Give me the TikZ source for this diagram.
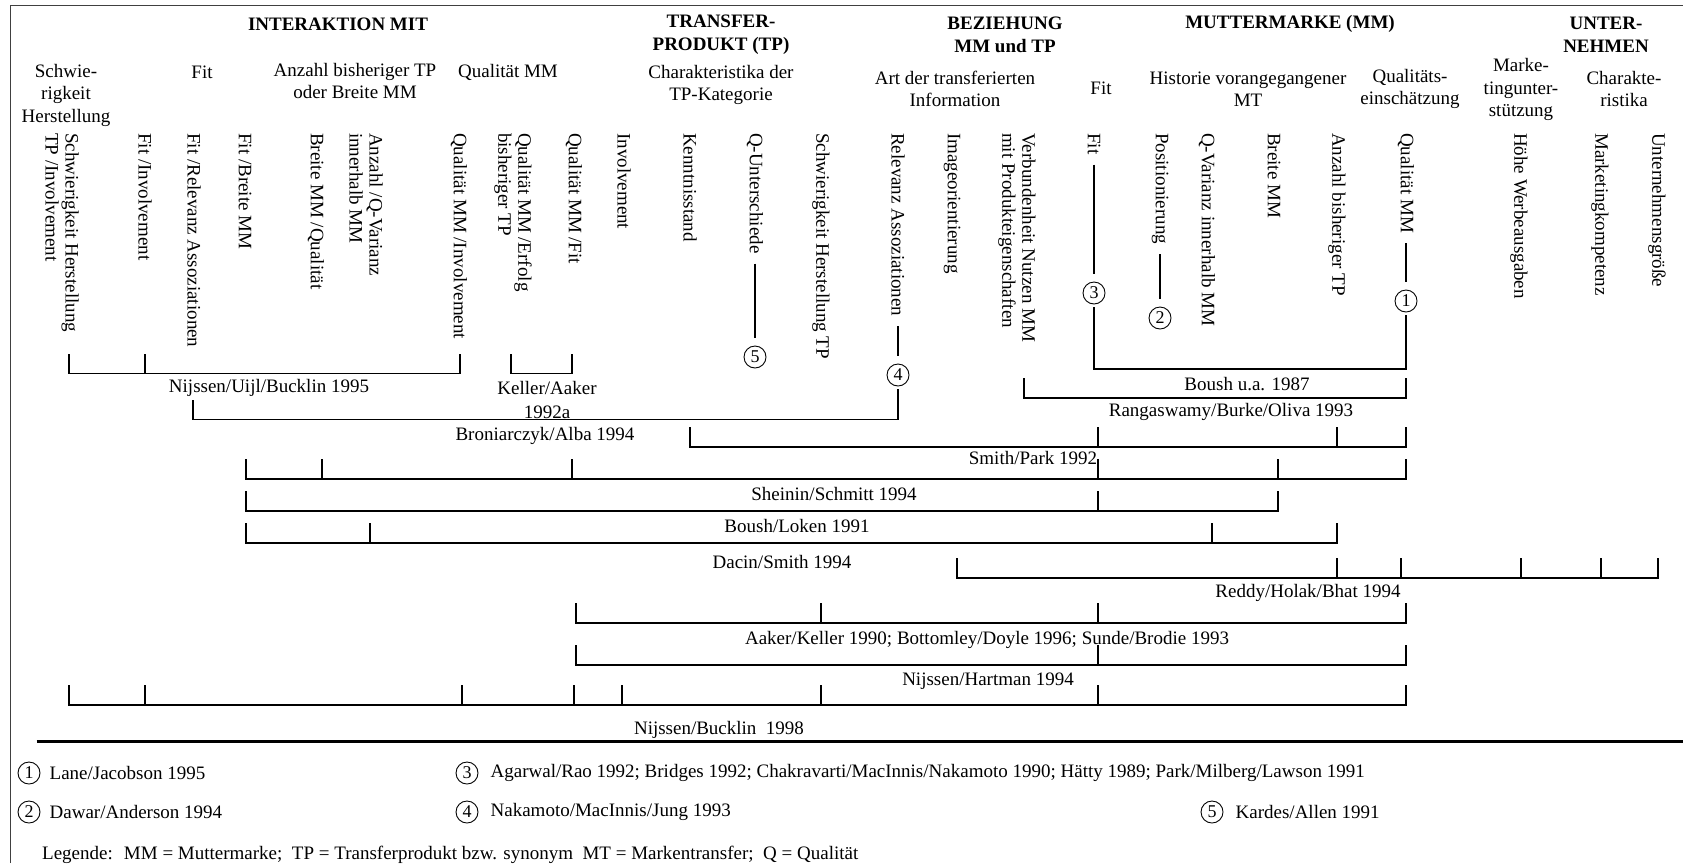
\documentclass[tikz,border=0pt]{standalone}
\usepackage{fontspec}
\setmainfont{Liberation Serif}
\usetikzlibrary{positioning}

\tikzset{
  txt/.style={inner sep=0pt, align=center, font=\fontsize{19}{22.5}\selectfont},
  hdr/.style={txt, font=\fontsize{19}{23}\selectfont\bfseries},
  vtxt/.style={inner sep=0pt, align=left, rotate=-90, anchor=west, font=\fontsize{19}{20}\selectfont},
  lbl/.style={txt},
  num/.style={circle, draw, line width=0.9pt, minimum size=22pt, inner sep=0pt, font=\fontsize{18}{18}\selectfont},
  brk/.style={line width=1.2pt, line cap=rect},
  refline/.style={line width=1.1pt, shorten <=10pt, shorten >=8pt},
}

% one bracket row: y, left end, right end, ticks
\newcommand\brrow[4]{%
  \draw[brk] (#2,#1) -- (#3,#1);
  \foreach \bx in {#4} \draw[brk] (\bx,#1) -- ++(0,-19);
}

\begin{document}
\begin{tikzpicture}[x=1pt, y=-1pt]
\useasboundingbox (0,0) rectangle (1683,863);

% frame
\draw[line width=1.6pt, black!75] (10.5,863) -- (10.5,5.5) -- (1683,5.5);

% group headers
\node[hdr] (hinter) at (338,24) {INTERAKTION MIT};
\node[hdr] (htp) at (721,35) {TRANSFER-\\PRODUKT (TP)};
\node[hdr] (hbez) at (1005,35) {BEZIEHUNG\\MM und TP};
\node[hdr] (hmm) at (1290,24) {MUTTERMARKE (MM)};
\node[hdr] (hunt) at (1606,35) {UNTER-\\NEHMEN};

% sub headers
\node[txt] (sschw) at (66,95) {Schwie-\\rigkeit\\Herstellung};
\node[txt] (sfit) at (202,72) {Fit};
\node[txt] (sanz) at (355,81) {Anzahl bisheriger TP\\oder Breite MM};
\node[txt] (squal) at (508,72) {Qualität MM};
\node[txt] (schar) at (721,85) {Charakteristika der\\TP-Kategorie};
\node[txt] (sart) at (955,89) {Art der transferierten\\Information};
\node[txt] (sfit2) at (1101,88) {Fit};
\node[txt] (shist) at (1248,89) {Historie vorangegangener\\MT};
\node[txt] (sqe) at (1410,89) {Qualitäts-\\einschätzung};
\node[txt] (smark) at (1521,89.5) {Marke-\\tingunter-\\stützung};
\node[txt] (schar2) at (1624,89) {Charakte-\\ristika};

% variables
\node[vtxt] (v1) at (62,133) {Schwierigkeit Herstellung\\TP /Involvement};
\node[vtxt] (v2) at (145,133) {Fit /Involvement};
\node[vtxt] (v3) at (194,133) {Fit /Relevanz Assoziationen};
\node[vtxt] (v4) at (245,133) {Fit /Breite MM};
\node[vtxt] (v5) at (316,133) {Breite MM /Qualität};
\node[vtxt] (v6) at (366,133) {Anzahl /Q-Varianz\\innerhalb MM};
\node[vtxt] (v7) at (459,133) {Qualität MM /Involvement};
\node[vtxt] (v8) at (513,133) {Qualität MM /Erfolg\\bisheriger TP};
\node[vtxt] (v9) at (574,133) {Qualität MM /Fit};
\node[vtxt] (v10) at (624,133) {Involvement};
\node[vtxt] (v11) at (690,133) {Kenntnisstand};
\node[vtxt] (v12) at (755,133) {Q-Unterschiede};
\node[vtxt] (v13) at (821,133) {Schwierigkeit Herstellung TP};
\node[vtxt] (v14) at (898,133) {Relevanz Assoziationen};
\node[vtxt] (v15) at (952,133) {Imageorientierung};
\node[vtxt] (v16) at (1017,133) {Verbundenheit Nutzen MM\\mit Produkteigenschaften};
\node[vtxt] (v17) at (1094,133) {Fit};
\node[vtxt] (v18) at (1160,133) {Positionierung};
\node[vtxt] (v19) at (1207,133) {Q-Varianz innerhalb MM};
\node[vtxt] (v20) at (1274,133) {Breite MM};
\node[vtxt] (v21) at (1337,133) {Anzahl bisheriger TP};
\node[vtxt] (v22) at (1406,133) {Qualität MM};
\node[vtxt] (v23) at (1519,133) {Höhe Werbeausgaben};
\node[vtxt] (v24) at (1600,133) {Marketingkompetenz};
\node[vtxt] (v25) at (1657,133) {Unternehmensgröße};

% footnote marks
\node[num] (n5) at (755,357) {5};
\node[num] (n4) at (898,375) {4};
\node[num] (n3) at (1094,293) {3};
\node[num] (n2) at (1160,318) {2};
\node[num] (n1) at (1406,301) {1};
\draw[refline] (v12.east) -- (n5.north);
\draw[refline] (v14.east) -- (n4.north);
\draw[refline] (v17.east) -- (n3.north);
\draw[refline] (v18.east) -- (n2.north);
\draw[refline] (v22.east) -- (n1.north);
\draw[brk, shorten <=3pt] (n4.south) -- (898,419.5);
\draw[brk, shorten <=3pt] (n3.south) -- (1094,369);
\draw[brk, shorten <=3pt] (n1.south) -- (1406,369);

% studies
\brrow{373.5}{69}{460}{69,145,460}
\brrow{373.5}{511}{572}{511,572}
\brrow{419.5}{193}{898}{193}
\draw[brk] (1094,369) -- (1406,369);
\brrow{398}{1024}{1406}{1024,1406}
\brrow{447}{690}{1406}{690,1098,1337,1406}
\brrow{479}{246}{1406}{246,322,572,1098,1278,1406}
\brrow{511}{246}{1278}{246,1098,1278}
\brrow{543}{246}{1337}{246,370,1212,1337}
\brrow{578}{957}{1658}{957,1337,1401,1521,1601,1658}
\brrow{623}{576}{1406}{576,821,1098,1406}
\brrow{665}{576}{1406}{576,1098,1406}
\brrow{705}{69}{1406}{69,145,462,574,622,821,1098,1406}

\node[lbl] (lnub) at (269,388) {Nijssen/Uijl/Bucklin 1995};
\node[lbl] (lka) at (547,400) {Keller/Aaker\\[1.5pt]1992a};
\node[lbl] (lba) at (545,436) {Broniarczyk/Alba 1994};
\node[lbl] (lbua) at (1247,384) {Boush u.a. 1987};
\node[lbl] (lrbo) at (1231,411.5) {Rangaswamy/Burke/Oliva 1993};
\node[lbl] (lsp) at (1033,458) {Smith/Park 1992};
\node[lbl] (lss) at (834,494) {Sheinin/Schmitt 1994};
\node[lbl] (lbl) at (797,526) {Boush/Loken 1991};
\node[lbl] (lds) at (782,561.5) {Dacin/Smith 1994};
\node[lbl] (lrhb) at (1308,592.5) {Reddy/Holak/Bhat 1994};
\node[lbl] (lak) at (987,640) {Aaker/Keller 1990; Bottomley/Doyle 1996; Sunde/Brodie 1993};
\node[lbl] (lnh) at (988,681.5) {Nijssen/Hartman 1994};
\node[lbl] (lnb) at (719,730) {Nijssen/Bucklin~ 1998};

% legend
\draw[line width=3pt] (36.5,741.5) -- (1683,741.5);
\node[num] (k1) at (29,773) {1};
\node[txt, right=9pt of k1] (t1) {Lane/Jacobson 1995};
\node[num] (k2) at (29,812) {2};
\node[txt, right=9pt of k2] (t2) {Dawar/Anderson 1994};
\node[num] (k3) at (467,773) {3};
\node[txt, right=12pt of k3] (t3) {Agarwal/Rao 1992; Bridges 1992; Chakravarti/MacInnis/Nakamoto 1990; Hätty 1989; Park/Milberg/Lawson 1991};
\node[num] (k4) at (467,812) {4};
\node[txt, right=12pt of k4] (t4) {Nakamoto/MacInnis/Jung 1993};
\node[num] (k5) at (1212,812) {5};
\node[txt, right=12pt of k5] (t5) {Kardes/Allen 1991};
\node[txt, anchor=west] (leg) at (42,855) {Legende:~ MM = Muttermarke;~ TP = Transferprodukt bzw. synonym~ MT = Markentransfer;~ Q = Qualität};
\end{tikzpicture}
\end{document}
